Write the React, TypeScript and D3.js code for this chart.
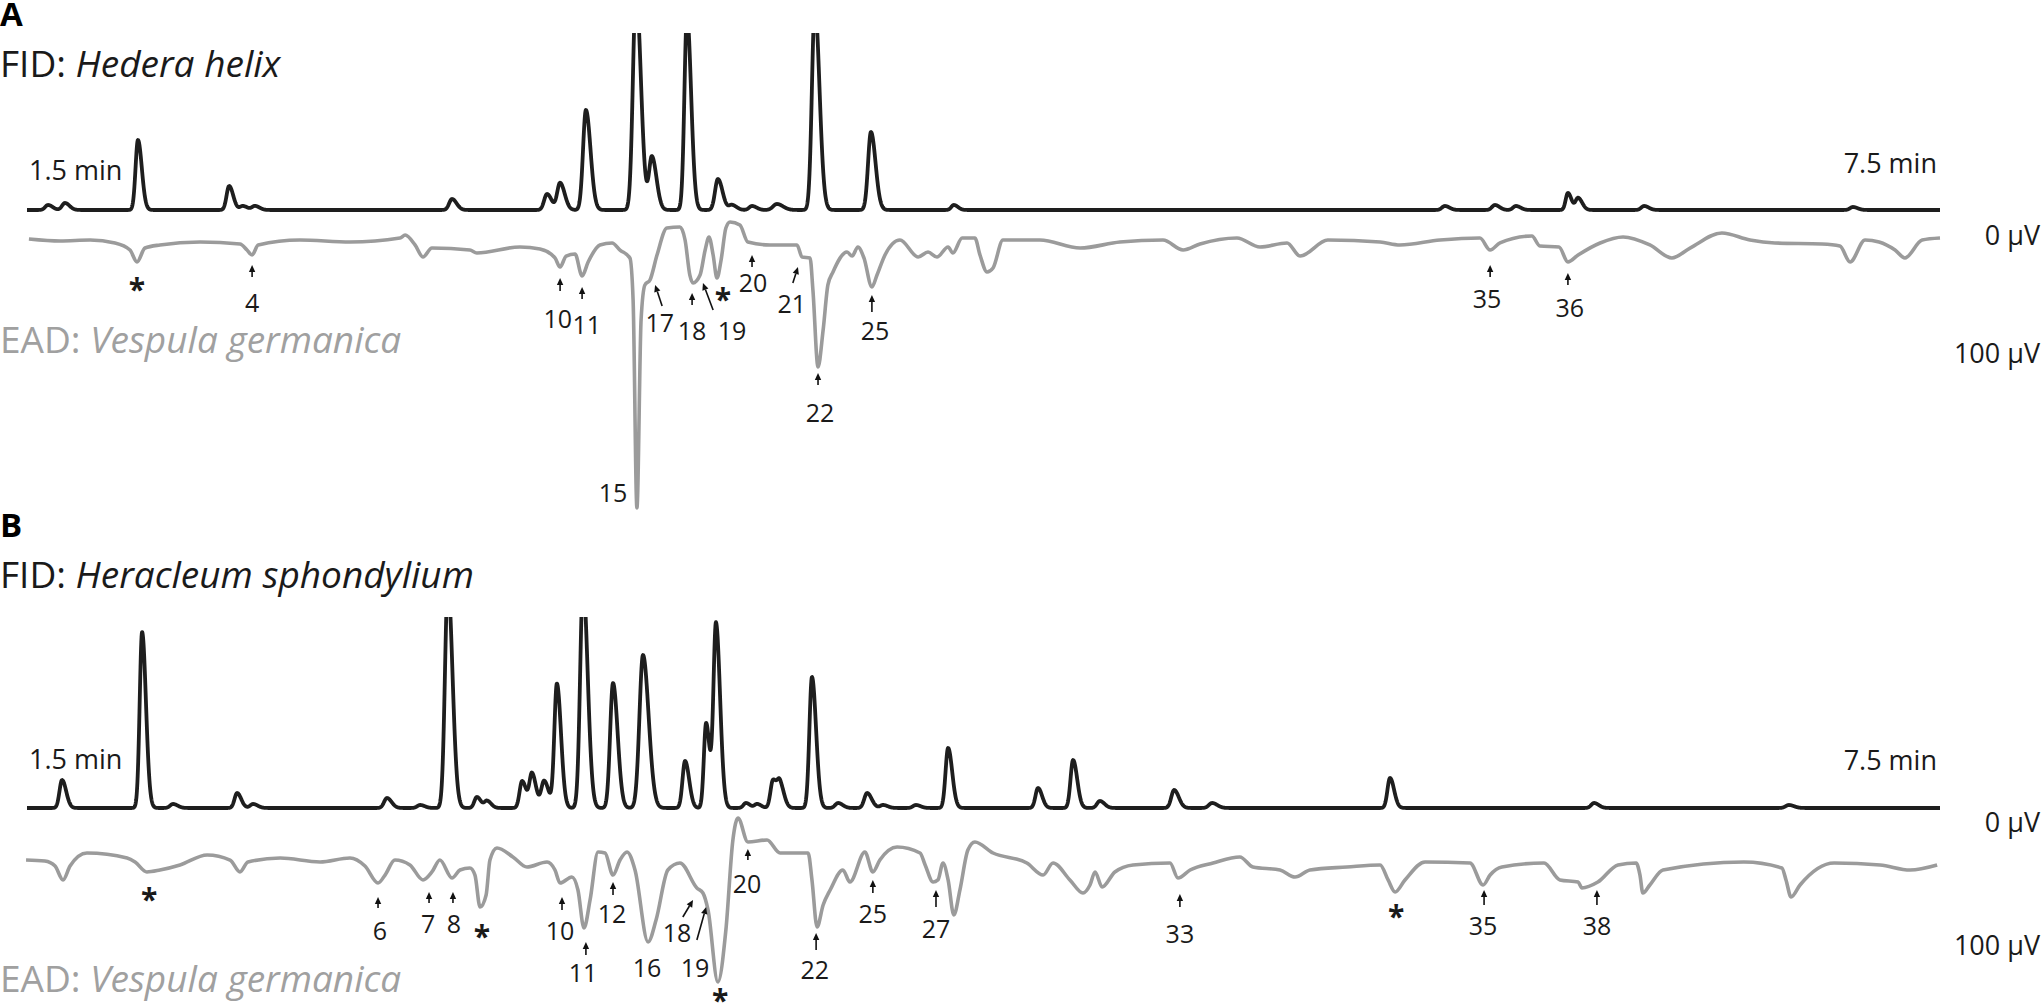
import React from "react";
import * as d3 from "d3";

const W = 2044;
const H = 1006;
const T_MIN = 1.5;
const T_MAX = 7.5;

// FID peaks: [retention time (min), height (a.u.), sigma (min)]
const fidPeaksA: [number, number, number][] = [
  [1.566, 5, 0.009], [1.619, 7, 0.009], [1.848, 70, 0.0075], [2.134, 24, 0.008],
  [2.177, 4, 0.009], [2.215, 4, 0.009], [2.833, 11, 0.009], [3.131, 16, 0.009],
  [3.172, 27, 0.009], [3.253, 100, 0.009], [3.41, 220, 0.0095], [3.46, 53, 0.009],
  [3.57, 195, 0.008], [3.667, 31, 0.009], [3.711, 5, 0.009], [3.774, 4, 0.009],
  [3.852, 6, 0.012], [3.971, 205, 0.009], [4.147, 78, 0.009], [4.407, 5, 0.008],
  [5.947, 4, 0.009], [6.104, 5, 0.009], [6.17, 4, 0.009], [6.333, 17, 0.007],
  [6.365, 12, 0.008], [6.572, 4, 0.009], [7.227, 3, 0.009],
];

const fidPeaksB: [number, number, number][] = [
  [1.61, 28, 0.008], [1.861, 176, 0.0075], [1.958, 4, 0.009], [2.159, 15, 0.008],
  [2.209, 4, 0.009], [2.629, 10, 0.009], [2.733, 3, 0.009], [2.82, 225, 0.009],
  [2.911, 11, 0.008], [2.943, 7, 0.008], [3.053, 27, 0.008], [3.084, 34, 0.008],
  [3.122, 27, 0.009], [3.162, 124, 0.008], [3.244, 225, 0.009], [3.338, 125, 0.009],
  [3.432, 153, 0.011], [3.564, 47, 0.008], [3.63, 85, 0.007], [3.661, 184, 0.008],
  [3.755, 5, 0.008], [3.79, 4, 0.008], [3.84, 28, 0.008], [3.862, 22, 0.008],
  [3.962, 131, 0.008], [4.044, 5, 0.009], [4.135, 15, 0.009], [4.185, 3, 0.009],
  [4.288, 3, 0.009], [4.389, 60, 0.008], [4.671, 20, 0.008], [4.781, 48, 0.008],
  [4.865, 7, 0.009], [5.098, 18, 0.009], [5.217, 5, 0.01], [5.775, 30, 0.008],
  [6.415, 5, 0.009], [7.026, 3, 0.01],
];

// EAD traces: [time (min), µV]
const eadA: [number, number][] = [
  [1.506, -2.5], [1.604, -4.2], [1.698, -3.4], [1.776, -5.9], [1.823, -11.9], [1.845, -22.0],
  [1.87, -10.2], [1.917, -7.6], [2.043, -5.1], [2.168, -6.8], [2.19, -11.9], [2.206, -16.1],
  [2.225, -7.6], [2.356, -3.4], [2.513, -5.1], [2.67, -1.7], [2.686, 0.8], [2.717, -7.6],
  [2.742, -17.8], [2.77, -10.2], [2.889, -11.9], [2.911, -14.4], [3.046, -9.3], [3.109, -11.0],
  [3.156, -18.6], [3.172, -26.3], [3.191, -17.0], [3.219, -15.3], [3.241, -33.9], [3.26, -22.0],
  [3.297, -7.6], [3.335, -5.9], [3.36, -11.9], [3.391, -18.6], [3.401, -54.2], [3.413, -230.5],
  [3.426, -71.2], [3.438, -41.5], [3.454, -37.3], [3.476, -16.1], [3.507, 6.8], [3.548, 7.6],
  [3.564, -3.4], [3.579, -33.1], [3.589, -39.8], [3.611, -33.1], [3.627, -11.9], [3.639, -0.8],
  [3.652, -16.1], [3.664, -35.6], [3.677, -20.3], [3.692, 6.8], [3.705, 11.9], [3.736, 9.3],
  [3.761, -5.1], [3.83, -7.6], [3.915, -7.6], [3.931, -17.8], [3.956, -18.6], [3.965, -45.8],
  [3.981, -111.0], [3.997, -79.7], [4.012, -41.5], [4.028, -30.5], [4.072, -13.6], [4.088, -17.0],
  [4.106, -9.3], [4.125, -18.6], [4.15, -43.2], [4.166, -33.1], [4.191, -16.1], [4.238, -3.4],
  [4.295, -17.8], [4.326, -13.6], [4.354, -17.8], [4.389, -9.3], [4.404, -14.4], [4.433, -1.7],
  [4.473, -1.7], [4.489, -16.1], [4.511, -30.5], [4.53, -27.1], [4.561, -3.4], [4.677, -3.4],
  [4.803, -10.2], [4.928, -5.1], [5.063, -3.4], [5.126, -11.9], [5.179, -6.8], [5.295, -1.7],
  [5.367, -9.3], [5.452, -5.9], [5.493, -17.0], [5.58, -3.4], [5.744, -5.1], [5.806, -7.6],
  [5.932, -3.4], [6.057, -1.7], [6.089, -11.9], [6.12, -5.9], [6.22, 0], [6.245, -8.5],
  [6.305, -9.3], [6.333, -22.0], [6.365, -16.1], [6.434, -5.9], [6.506, -0.8], [6.59, -7.6],
  [6.659, -18.6], [6.716, -10.2], [6.816, 2.5], [6.904, -3.4], [6.982, -5.9], [7.13, -6.8],
  [7.186, -8.5], [7.218, -22.0], [7.265, -3.4], [7.309, -5.1], [7.359, -11.9], [7.39, -18.6],
  [7.444, -3.4], [7.5, -1.7],
];

const eadB: [number, number][] = [
  [1.497, -30.1], [1.556, -30.9], [1.588, -35.0], [1.613, -46.3], [1.635, -35.0], [1.688, -24.4],
  [1.814, -28.5], [1.839, -31.7], [1.876, -39.8], [1.917, -38.2], [1.98, -34.1], [2.065, -26.0],
  [2.137, -30.1], [2.168, -39.8], [2.193, -31.7], [2.294, -28.5], [2.419, -31.7], [2.513, -28.5],
  [2.56, -35.0], [2.601, -48.8], [2.623, -42.3], [2.654, -30.1], [2.701, -34.1], [2.742, -46.3],
  [2.77, -39.8], [2.795, -30.1], [2.833, -44.7], [2.858, -38.2], [2.889, -36.6], [2.905, -42.3],
  [2.921, -68.3], [2.94, -58.5], [2.952, -30.1], [2.974, -20.3], [3.024, -27.6], [3.068, -35.8],
  [3.131, -31.7], [3.156, -38.2], [3.172, -48.8], [3.209, -43.9], [3.228, -54.5], [3.247, -85.4],
  [3.266, -62.6], [3.291, -23.6], [3.313, -24.4], [3.338, -42.3], [3.36, -30.1], [3.382, -23.6],
  [3.407, -38.2], [3.448, -96.7], [3.473, -78.9], [3.51, -38.2], [3.548, -32.5], [3.601, -52.8],
  [3.62, -56.9], [3.636, -70.7], [3.667, -129.3], [3.692, -87.0], [3.714, -13.8], [3.73, 4.1],
  [3.761, -15.4], [3.821, -13.8], [3.862, -24.4], [3.95, -24.4], [3.962, -46.3], [3.978, -84.6],
  [3.997, -66.7], [4.019, -54.5], [4.059, -38.2], [4.081, -48.0], [4.128, -23.6], [4.153, -39.8],
  [4.175, -30.1], [4.229, -19.5], [4.301, -24.4], [4.317, -34.1], [4.342, -48.0], [4.357, -46.3],
  [4.373, -32.5], [4.389, -46.3], [4.407, -74.8], [4.426, -54.5], [4.451, -22.0], [4.473, -15.4],
  [4.53, -24.4], [4.636, -32.5], [4.687, -42.3], [4.718, -32.5], [4.771, -46.3], [4.812, -56.9],
  [4.834, -50.4], [4.85, -39.8], [4.872, -52.0], [4.912, -39.8], [4.969, -34.1], [5.085, -32.5],
  [5.11, -44.7], [5.148, -38.2], [5.22, -32.5], [5.304, -27.6], [5.345, -35.8], [5.43, -38.2],
  [5.477, -43.9], [5.524, -38.2], [5.64, -35.8], [5.744, -34.1], [5.769, -46.3], [5.791, -56.1],
  [5.822, -46.3], [5.885, -31.7], [6.026, -32.5], [6.067, -50.4], [6.089, -42.3], [6.126, -35.8],
  [6.258, -32.5], [6.308, -46.3], [6.365, -48.0], [6.377, -52.8], [6.427, -48.0], [6.49, -34.1],
  [6.547, -32.5], [6.559, -42.3], [6.568, -56.9], [6.59, -50.4], [6.631, -38.2], [6.885, -31.7],
  [7.004, -36.6], [7.017, -46.3], [7.033, -60.2], [7.061, -50.4], [7.168, -32.5], [7.312, -34.1],
  [7.406, -38.2], [7.491, -34.1],
];

// compound numbers: [text, time, µV (baseline of text)]
const labelsA: [string, number, number][] = [
  ["4", 2.206, -64.4], ["10", 3.165, -78.0], ["11", 3.256, -83.1], ["15", 3.338, -225.4],
  ["17", 3.485, -81.4], ["18", 3.586, -88.1], ["19", 3.711, -88.1], ["20", 3.777, -47.5],
  ["21", 3.899, -65.3], ["22", 3.987, -157.6], ["25", 4.16, -88.1], ["35", 6.079, -61.0],
  ["36", 6.339, -68.6],
];
const labelsB: [string, number, number][] = [
  ["6", 2.607, -95.1], ["7", 2.758, -89.4], ["8", 2.839, -89.4], ["10", 3.172, -95.1],
  ["11", 3.244, -129.3], ["12", 3.335, -81.3], ["16", 3.445, -125.2], ["18", 3.539, -96.7],
  ["19", 3.595, -125.2], ["20", 3.758, -56.9], ["22", 3.971, -126.8], ["25", 4.153, -81.3],
  ["27", 4.351, -93.5], ["33", 5.116, -97.6], ["35", 6.067, -91.1], ["38", 6.424, -91.1],
];

// arrows: [tail time, tail µV, tip time, tip µV]
const arrowsA: [number, number, number, number][] = [
  [2.206, -34.7, 2.206, -24.6], [3.172, -46.6, 3.172, -35.6], [3.241, -53.4, 3.241, -43.2],
  [3.492, -59.3, 3.47, -41.5], [3.586, -58.5, 3.586, -48.3], [3.652, -62.7, 3.62, -39.8],
  [3.774, -26.3, 3.774, -16.1], [3.902, -39.8, 3.918, -26.3], [3.981, -126.3, 3.981, -116.1],
  [4.15, -64.4, 4.15, -50.0], [6.089, -34.7, 6.089, -24.6], [6.333, -41.5, 6.333, -31.4],
];
const arrowsB: [number, number, number, number][] = [
  [2.601, -69.1, 2.601, -60.2], [2.761, -65.0, 2.761, -56.1], [2.836, -65.0, 2.836, -56.1],
  [3.178, -70.7, 3.178, -60.2], [3.253, -107.3, 3.253, -96.7], [3.338, -58.5, 3.338, -48.0],
  [3.557, -76.4, 3.589, -62.6], [3.601, -95.1, 3.63, -68.3], [3.761, -30.1, 3.761, -21.1],
  [3.975, -103.3, 3.975, -89.4], [4.153, -56.9, 4.153, -46.3], [4.351, -68.3, 4.351, -54.5],
  [5.116, -68.3, 5.116, -57.7], [6.07, -66.7, 6.07, -54.5], [6.424, -66.7, 6.424, -54.5],
];

// asterisks: [time, µV (centre)]
const starsA: [number, number][] = [[1.845, -39.8], [3.683, -48.3]];
const starsB: [number, number][] = [[1.883, -56.9], [2.927, -87.0], [3.674, -139.0], [5.794, -70.7]];

const FONT = "'Open Sans', Lato, sans-serif";
const FID_COLOR = "#1e1e1e";
const EAD_COLOR = "#9b9b9b";

const x = d3.scaleLinear().domain([T_MIN, T_MAX]).range([27, 1940]);

// sum of slightly tailing gaussian peaks, sampled along the run
function fidTrace(peaks: [number, number, number][]) {
  const pts: [number, number][] = [];
  for (let t = T_MIN; t <= T_MAX + 1e-9; t += 0.0008) {
    let v = 0;
    for (const [c, h, s] of peaks) {
      const sd = t < c ? s : s * 1.6;
      const z = (t - c) / sd;
      if (Math.abs(z) < 8) v += h * Math.exp(-0.5 * z * z);
    }
    pts.push([t, v]);
  }
  return pts;
}

function Arrow({ x1, y1, x2, y2 }: { x1: number; y1: number; x2: number; y2: number }) {
  const a = Math.atan2(y2 - y1, x2 - x1);
  const hl = 7, hw = 3.2;
  const bx = x2 - hl * Math.cos(a), by = y2 - hl * Math.sin(a);
  const px = -Math.sin(a) * hw, py = Math.cos(a) * hw;
  return (
    <g>
      <line x1={x1} y1={y1} x2={bx} y2={by} stroke="#111" strokeWidth={1.6} />
      <polygon points={`${x2},${y2} ${bx + px},${by + py} ${bx - px},${by - py}`} fill="#111" />
    </g>
  );
}

type PanelProps = {
  id: string;
  letter: string;
  letterY: number;
  fidLabelY: number;
  plant: string;
  eadLabelY: number;
  fidBase: number;
  clipTop: number;
  ead0: number;
  ead100: number;
  startLabelY: number;
  endLabelY: number;
  peaks: [number, number, number][];
  ead: [number, number][];
  labels: [string, number, number][];
  arrows: [number, number, number, number][];
  stars: [number, number][];
};

function Panel(p: PanelProps) {
  const yF = d3.scaleLinear().domain([0, 100]).range([p.fidBase, p.fidBase - 100]);
  const yE = d3.scaleLinear().domain([0, -100]).range([p.ead0, p.ead100]);
  const fidLine = d3.line<[number, number]>().x((d) => x(d[0])).y((d) => yF(d[1]));
  const eadLine = d3
    .line<[number, number]>()
    .x((d) => x(d[0]))
    .y((d) => yE(d[1]))
    .curve(d3.curveMonotoneX);
  const fid = fidTrace(p.peaks);
  return (
    <g fontFamily={FONT}>
      <defs>
        <clipPath id={`clip-${p.id}`}>
          <rect x={0} y={p.clipTop} width={W} height={H} />
        </clipPath>
      </defs>
      <text x={0} y={p.letterY} fontSize={33} fontWeight="bold" fill="#000">
        {p.letter}
      </text>
      <text x={0} y={p.fidLabelY} fontSize={37} fill="#1a1a1a">
        <tspan>FID: </tspan>
        <tspan fontStyle="italic">{p.plant}</tspan>
      </text>
      <text x={0} y={p.eadLabelY} fontSize={37} fill="#a0a0a0">
        <tspan>EAD: </tspan>
        <tspan fontStyle="italic">Vespula germanica</tspan>
      </text>
      <text x={x(T_MIN) + 2} y={p.startLabelY} fontSize={27} fill="#1a1a1a">
        1.5 min
      </text>
      <text x={x(T_MAX) - 3} y={p.endLabelY} fontSize={27} fill="#1a1a1a" textAnchor="end">
        7.5 min
      </text>
      <text x={2040} y={yE(0) + 9} fontSize={27} fill="#1a1a1a" textAnchor="end">
        0 µV
      </text>
      <text x={2040} y={yE(-100) + 9} fontSize={27} fill="#1a1a1a" textAnchor="end">
        100 µV
      </text>
      <path
        d={fidLine(fid) || ""}
        fill="none"
        stroke={FID_COLOR}
        strokeWidth={3.8}
        strokeLinejoin="round"
        clipPath={`url(#clip-${p.id})`}
      />
      <path d={eadLine(p.ead) || ""} fill="none" stroke={EAD_COLOR} strokeWidth={3.6} strokeLinejoin="round" />
      {p.arrows.map((a, i) => (
        <Arrow key={i} x1={x(a[0])} y1={yE(a[1])} x2={x(a[2])} y2={yE(a[3])} />
      ))}
      {p.labels.map(([t, tm, v], i) => (
        <text key={i} x={x(tm)} y={yE(v)} fontSize={25} textAnchor="middle" fill="#1a1a1a">
          {t}
        </text>
      ))}
      {p.stars.map(([tm, v], i) => (
        <text key={i} x={x(tm)} y={yE(v) + 17} fontSize={30} fontWeight="bold" textAnchor="middle" fill="#1a1a1a">
          *
        </text>
      ))}
    </g>
  );
}

export default function App() {
  return (
    <svg
      width={W}
      height={H}
      viewBox={`0 0 ${W} ${H}`}
      style={{ position: "absolute", left: 0, top: 0, background: "#fff" }}
    >
      <rect width={W} height={H} fill="#fff" />
      <Panel
        id="a"
        letter="A"
        letterY={26}
        fidLabelY={77}
        plant="Hedera helix"
        eadLabelY={353}
        fidBase={210}
        clipTop={33}
        ead0={236}
        ead100={354}
        startLabelY={180}
        endLabelY={173}
        peaks={fidPeaksA}
        ead={eadA}
        labels={labelsA}
        arrows={arrowsA}
        stars={starsA}
      />
      <Panel
        id="b"
        letter="B"
        letterY={537}
        fidLabelY={588}
        plant="Heracleum sphondylium"
        eadLabelY={992}
        fidBase={808}
        clipTop={617}
        ead0={823}
        ead100={946}
        startLabelY={769}
        endLabelY={770}
        peaks={fidPeaksB}
        ead={eadB}
        labels={labelsB}
        arrows={arrowsB}
        stars={starsB}
      />
    </svg>
  );
}
